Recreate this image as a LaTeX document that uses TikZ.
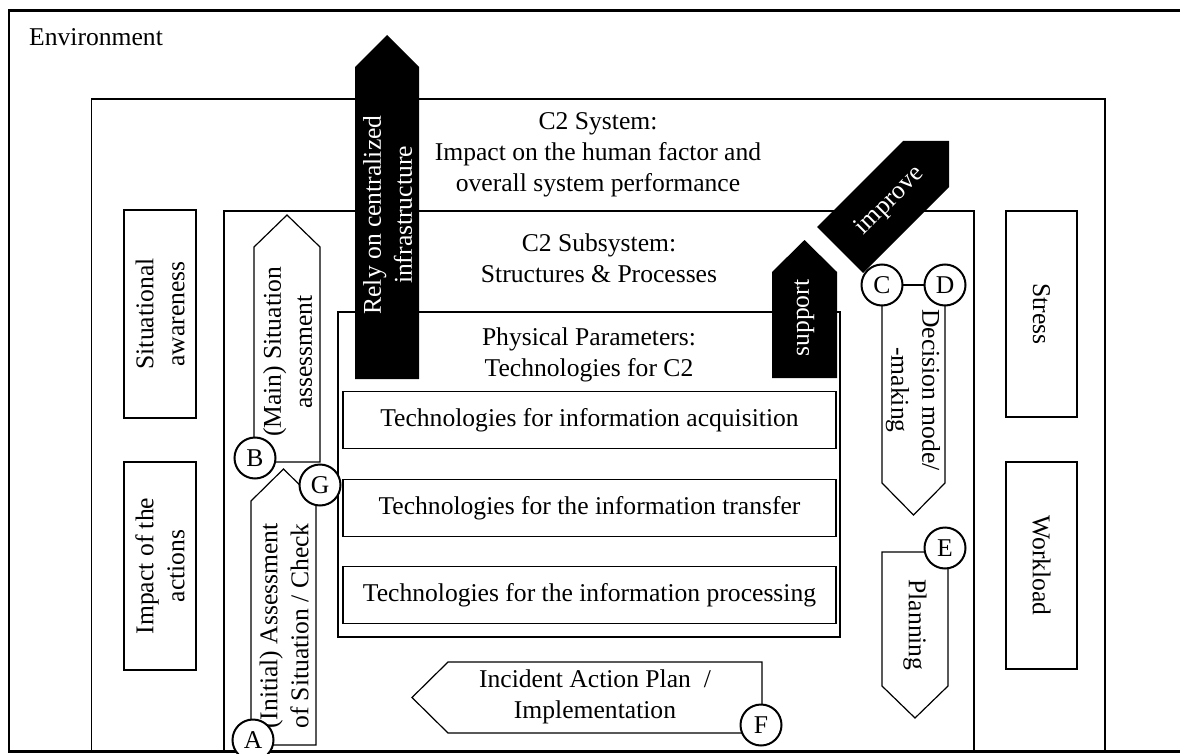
\documentclass[tikz,border=0pt]{standalone}
\usepackage{fontspec}
\setmainfont{Liberation Serif}
\begin{document}
\begin{tikzpicture}[x=1pt,y=-1pt,
  every node/.style={font=\fontsize{25.6}{31}\selectfont, inner sep=0pt, align=center},
  thinbox/.style={draw, line width=1.2pt},
  framebox/.style={draw, line width=2.5pt},
  pent/.style={draw, line width=1.2pt, fill=white, line join=miter},
  blackarrow/.style={fill=black, draw=none},
  wtext/.style={text=white},
  letterdot/.style={circle, draw, line width=2pt, fill=white, minimum size=41pt}
]
\useasboundingbox (0,0) rectangle (1180,754);
\begin{scope}
\clip (0,0) rectangle (1180,754);

% nested frames
\draw[framebox] (9,10.5) rectangle (1190,751.5);
\draw[thinbox] (91.5,99) rectangle (1105,752);
\draw[thinbox] (224,211) rectangle (974,752);
\draw[thinbox] (338,312) rectangle (840,637);
\node[anchor=base west] (env) at (29,46) {Environment};
\node (sys) at (598,155) {C2 System:\\Impact on the human factor and\\overall system performance};
\node (sub) at (599,258) {C2 Subsystem:\\Structures \& Processes};
\node (phys) at (589,355) {Physical Parameters:\\Technologies for C2};

% technology boxes
\node[thinbox, minimum width=493pt, minimum height=57pt] (acq) at (589.5,420) {Technologies for information acquisition};
\node[thinbox, minimum width=493pt, minimum height=57pt] (trf) at (589.5,508) {Technologies for the information transfer};
\node[thinbox, minimum width=493pt, minimum height=57pt] (prc) at (589.5,595) {Technologies for the information processing};

% human factor boxes
\node[thinbox, rotate=90, minimum width=208pt, minimum height=72pt] (sa) at (160,314) {Situational\\awareness};
\node[thinbox, rotate=90, minimum width=208pt, minimum height=72pt] (ia) at (160,566) {Impact of the\\actions};
\node[thinbox, rotate=-90, minimum width=206pt, minimum height=71pt] (stress) at (1041.5,314) {Stress};
\node[thinbox, rotate=-90, minimum width=207pt, minimum height=71pt] (work) at (1041.5,565.5) {Workload};

% process step corners
\coordinate (pA) at (253,740);
\coordinate (pB) at (255,458);
\coordinate (pC) at (882,285);
\coordinate (pD) at (945,285);
\coordinate (pE) at (945,548);
\coordinate (pF) at (761,725);
\coordinate (pG) at (320,485);

% process steps
\draw[pent] (254,462) -- (254,247) -- (287,215) -- (320,247) -- (320,462) -- cycle;
\draw[pent] (251,745) -- (251,501) -- (283.5,469) -- (316,501) -- (316,745) -- cycle;
\draw[pent] (pC) -- (882,483) -- (913.5,515) -- (945,483) -- (pD);
\draw[pent] (882,552) -- (882,686) -- (915,718) -- (948,686) -- (948,552) -- cycle;
\draw[pent] (762,662) -- (448,662) -- (412,697.5) -- (448,733) -- (762,733) -- cycle;
\node[rotate=90] (mainsa) at (287.5,352) {(Main) Situation\\assessment};
\node[rotate=90] (initsa) at (284,626) {(Initial) Assessment\\of Situation / Check};
\node[rotate=-90] (dec) at (913,390) {Decision mode/\\-making};
\node[rotate=-90] (plan) at (915,625) {Planning};
\node (iap) at (595,697) {Incident Action Plan\ \ /\\Implementation};

% black arrows
\fill[blackarrow] (355,379) -- (355,67) -- (387,35) -- (419,67) -- (419,379) -- cycle;
\fill[blackarrow] (772,378) -- (772,272) -- (804.5,240) -- (837,272) -- (837,378) -- cycle;
\fill[blackarrow] (817,227) -- (903,141) -- (949,141) -- (949,187) -- (863,273) -- cycle;
\node[rotate=90, wtext] (rely) at (387.5,215) {Rely on centralized\\infrastructure};
\node[rotate=90, wtext] (sup) at (804.5,318) {support};
\node[rotate=45, wtext] (imp) at (890,201) {improve};

% lettered markers
\draw[line width=1.2pt] (pC) -- (pD);
\node[letterdot] (A) at (pA) {A};
\node[letterdot] (B) at (pB) {B};
\node[letterdot] (C) at (pC) {C};
\node[letterdot] (D) at (pD) {D};
\node[letterdot] (E) at (pE) {E};
\node[letterdot] (F) at (pF) {F};
\node[letterdot] (G) at (pG) {G};
\end{scope}
\end{tikzpicture}
\end{document}
